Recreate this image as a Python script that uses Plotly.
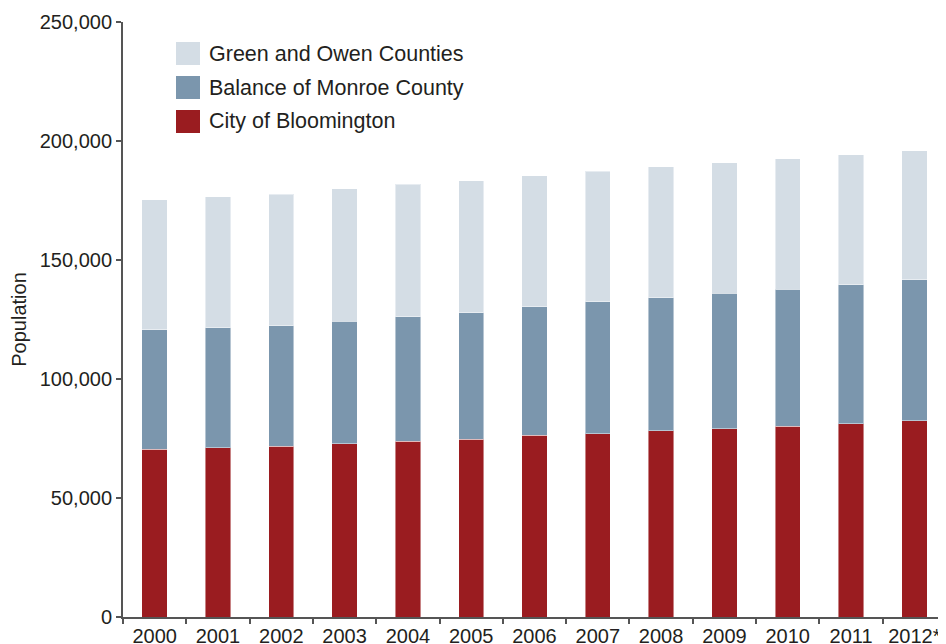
import plotly.graph_objects as go

years = ["2000", "2001", "2002", "2003", "2004", "2005", "2006",
         "2007", "2008", "2009", "2010", "2011", "2012*"]
bloomington = [70400, 71100, 71700, 72700, 73800, 74600, 76300,
               77100, 78300, 79200, 80200, 81300, 82500]
balance_monroe = [50300, 50400, 50700, 51500, 52400, 53300, 54100,
                  55300, 55900, 56800, 57600, 58400, 59200]
green_owen = [54600, 55100, 55200, 55800, 55600, 55400, 55100,
              54800, 54900, 54800, 54800, 54500, 54300]

series_names = ["City of Bloomington", "Balance of Monroe County", "Green and Owen Counties"]
series_values = [bloomington, balance_monroe, green_owen]
series_colors = ["#9a1c20", "#7b96ad", "#d4dde5"]

y_ticks = [0, 50000, 100000, 150000, 200000, 250000]

FONT = "Liberation Sans, Arial, Helvetica, sans-serif"
TXT = "#231f20"

# page offset of 8px (body margin) compensated in margins
L, T, PW, PH = 115, 14, 823, 595
PAGE_OFF = 8

def px(xpage):
    return (xpage - PAGE_OFF - L) / PW

def py(ypage):
    return (T + PH - (ypage - PAGE_OFF)) / PH

fig = go.Figure()
for name, vals, col in zip(series_names, series_values, series_colors):
    fig.add_trace(go.Bar(
        x=years, y=vals, name=name,
        marker=dict(color=col, line=dict(color="rgba(255,255,255,0.45)", width=1)),
        width=0.4, showlegend=False,
    ))

# Legend drawn as swatches + labels (top entry = last series)
legend_rows = list(reversed(list(zip(series_names, series_colors))))
row_centres = [53.5, 87.5, 121.5]
for (name, col), yc in zip(legend_rows, row_centres):
    fig.add_shape(type="rect", xref="paper", yref="paper",
                  x0=px(176), x1=px(200), y0=py(yc + 11.5), y1=py(yc - 11.5),
                  fillcolor=col, line=dict(width=0))
    fig.add_annotation(xref="paper", yref="paper",
                       x=px(207), y=py(yc), text=name,
                       showarrow=False, xanchor="left", yanchor="middle",
                       font=dict(family=FONT, size=21.5, color=TXT))

fig.update_layout(
    barmode="stack",
    width=946, height=644,
    margin=dict(l=L, r=946 - L - PW, t=T, b=644 - T - PH),
    paper_bgcolor="white", plot_bgcolor="white",
    font=dict(family=FONT, size=20, color=TXT),
)
fig.update_xaxes(
    type="category", automargin=False,
    showline=True, linecolor="#555555", linewidth=2,
    ticks="outside", tickson="boundaries", ticklen=5, tickcolor="#555555", tickwidth=1.5,
    tickfont=dict(family=FONT, size=20, color=TXT),
    showgrid=False, zeroline=False,
)
fig.update_yaxes(
    range=[0, 250000], tickvals=y_ticks, tickformat=",", automargin=False,
    showline=True, linecolor="#555555", linewidth=2,
    ticks="outside", ticklen=5, tickcolor="#555555", tickwidth=1.5,
    tickfont=dict(family=FONT, size=20, color=TXT),
    showgrid=False, zeroline=False,
    title=dict(text="Population", font=dict(family=FONT, size=20, color=TXT), standoff=8),
)

fig.write_html("out.html")
